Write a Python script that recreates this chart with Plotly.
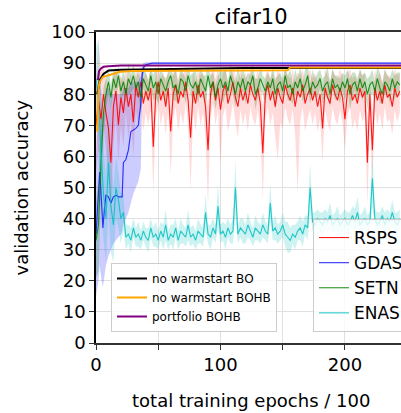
import plotly.graph_objects as go

# ---------------- data ----------------
EPOCHS = list(range(0, 246, 2))  # 0..244 step 2 (123 points)

RSPS_MEAN = [
    70, 78, 72, 80, 74, 69, 58, 76, 81, 70,
    79, 74, 82, 76, 80, 71, 83, 79, 84, 77,
    81, 78, 82, 63, 80, 84, 78, 81, 76, 82,
    68, 80, 83, 77, 81, 79, 84, 78, 66, 81,
    77, 83, 79, 81, 76, 62, 80, 84, 78, 82,
    75, 81, 83, 77, 80, 84, 79, 76, 82, 78,
    81, 77, 83, 80, 78, 82, 77, 61, 80, 83,
    78, 81, 76, 82, 79, 77, 83, 80, 78, 82,
    76, 81, 79, 83, 77, 80, 82, 78, 81, 76,
    80, 69, 82, 79, 77, 83, 80, 78, 82, 79,
    72, 81, 83, 78, 80, 77, 82, 79, 81, 58,
    80, 62, 82, 78, 81, 77, 83, 79, 80, 76,
    82, 79, 81,
]
RSPS_HI = [
    86, 97, 88, 89, 85, 82, 75, 86, 89, 84,
    86, 84, 88, 84, 87, 82, 88, 86, 89, 85,
    87, 85, 88, 80, 86, 89, 85, 87, 84, 88,
    82, 87, 88, 85, 87, 86, 89, 85, 80, 87,
    84, 88, 86, 87, 84, 76, 86, 89, 85, 88,
    83, 87, 88, 84, 86, 89, 86, 84, 88, 85,
    87, 84, 88, 86, 85, 88, 84, 76, 86, 88,
    85, 87, 84, 88, 86, 84, 88, 86, 85, 88,
    84, 87, 86, 88, 84, 86, 88, 85, 87, 84,
    86, 80, 88, 86, 84, 88, 86, 85, 88, 86,
    82, 87, 88, 85, 86, 84, 88, 86, 87, 72,
    86, 74, 88, 85, 87, 84, 88, 86, 86, 84,
    88, 86, 87,
]
RSPS_LO = [
    55, 62, 60, 70, 62, 55, 40, 64, 72, 58,
    70, 63, 74, 66, 72, 60, 75, 70, 76, 68,
    74, 70, 75, 48, 72, 77, 70, 74, 67, 75,
    54, 72, 76, 68, 74, 70, 77, 70, 49, 74,
    68, 76, 70, 74, 66, 44, 72, 77, 70, 75,
    57, 73, 76, 68, 72, 77, 71, 66, 75, 70,
    74, 68, 76, 72, 70, 75, 68, 46, 72, 76,
    70, 74, 66, 59, 71, 69, 76, 72, 70, 75,
    67, 48, 71, 76, 68, 72, 75, 70, 74, 68,
    72, 58, 75, 71, 68, 76, 72, 70, 75, 71,
    62, 73, 76, 69, 72, 68, 75, 71, 74, 44,
    72, 50, 75, 70, 74, 68, 76, 71, 72, 67,
    75, 71, 74,
]

SETN_MEAN = [
    33, 38, 58, 74, 80, 84, 79, 85, 82, 86,
    81, 84, 80, 85, 83, 86, 82, 84, 79, 85,
    83, 81, 86, 82, 84, 80, 85, 83, 81, 84,
    86, 82, 83, 80, 85, 84, 81, 86, 83, 82,
    84, 80, 85, 83, 81, 86, 82, 84, 79, 83,
    85, 82, 84, 81, 86, 83, 80, 84, 82, 85,
    81, 84, 83, 86, 80, 82, 85, 83, 81, 84,
    82, 85, 80, 83, 84, 81, 86, 82, 83, 80,
    84, 82, 85, 81, 83, 86, 80, 84, 82, 83,
    85, 81, 83, 84, 80, 85, 82, 83, 81, 84,
    82, 85, 80, 83, 84, 81, 85, 82, 84, 80,
    83, 84, 81, 85, 82, 80, 84, 83, 81, 85,
    82, 84, 83,
]
SETN_STD = [
    12, 15, 14, 8, 5, 4, 4, 3, 4, 3,
    3, 4, 3, 5, 3, 4, 3, 4, 5, 3,
    4, 3, 3, 4, 5, 3, 4, 3, 4, 3,
    3, 4, 5, 3, 4, 3, 4, 3, 3, 5,
    4, 3, 4, 3, 5, 3, 4, 3, 4, 3,
    3, 5, 4, 3, 4, 3, 4, 5, 3, 4,
    4, 3, 3, 4, 5, 3, 4, 3, 4, 3,
    3, 4, 5, 3, 3, 4, 3, 4, 5, 3,
    4, 3, 4, 3, 5, 4, 3, 4, 3, 4,
    3, 4, 3, 5, 4, 3, 4, 3, 4, 3,
    4, 3, 5, 4, 3, 4, 3, 4, 3, 5,
    3, 4, 3, 4, 5, 3, 4, 3, 4, 3,
    4, 3, 4,
]

ENAS_MEAN = [
    85, 78, 62, 48, 40, 58, 44, 38, 50, 46,
    40, 42, 34, 35, 33, 37, 34, 35, 33, 36,
    34, 33, 37, 34, 35, 33, 36, 34, 38, 33,
    35, 34, 37, 33, 36, 35, 34, 38, 34, 35,
    33, 36, 35, 34, 42, 35, 34, 37, 35, 44,
    35, 36, 34, 37, 35, 36, 50, 35, 37, 36,
    35, 38, 36, 34, 37, 36, 35, 38, 36, 35,
    45, 36, 37, 35, 36, 38, 35, 34, 33, 35,
    34, 36, 37, 35, 38, 37, 50, 39, 38, 40,
    39, 38, 40, 39, 41, 38, 39, 40, 38, 39,
    40, 38, 39, 41, 39, 42, 38, 39, 40, 38,
    39, 53, 40, 38, 39, 41, 38, 40, 39, 42,
    39, 38, 40,
]
ENAS_STD = [
    10, 20, 18, 15, 14, 16, 15, 12, 10, 9,
    8, 6, 4, 3, 4, 3, 3, 4, 3, 3,
    3, 4, 3, 3, 4, 3, 3, 4, 5, 3,
    3, 4, 3, 3, 4, 3, 3, 5, 3, 3,
    3, 4, 3, 3, 6, 3, 4, 3, 3, 7,
    3, 3, 4, 3, 3, 4, 9, 3, 3, 4,
    3, 4, 3, 3, 4, 3, 3, 4, 3, 3,
    6, 3, 4, 3, 3, 4, 4, 5, 4, 3,
    4, 3, 4, 4, 3, 4, 8, 3, 4, 3,
    3, 4, 3, 3, 4, 3, 3, 4, 3, 3,
    3, 4, 3, 3, 4, 5, 3, 3, 4, 3,
    3, 9, 3, 4, 3, 3, 4, 3, 3, 4,
    3, 4, 3,
]

GDAS_EPOCHS = [0, 1, 2, 3, 4.5, 5.5, 7, 8, 10, 12, 14, 16, 18, 20, 21, 22,
               24, 26, 28, 30, 32, 34, 36, 37, 38, 40, 45, 60, 100, 150, 200, 245]
GDAS_MEAN = [35, 42, 50, 55, 45, 37, 44, 47.5, 47, 45, 47, 47.5, 47, 47, 47, 58,
             59, 62, 68, 68.5, 69, 70, 77, 86, 88.5, 89.5, 90, 90, 90, 90, 90, 90]
GDAS_HI = [60, 70, 78, 85, 80, 72, 75, 82, 82, 80, 80, 80, 80, 80, 80, 82,
           82, 82, 84, 84, 84, 84, 86, 89, 90, 90.3, 90.3, 90.3, 90.3, 90.3, 90.3, 90.3]
GDAS_LO = [15, 18, 20, 25, 20, 18, 22, 25, 28, 30, 32, 33, 34, 35, 36, 38,
           40, 42, 45, 48, 50, 52, 56, 80, 86, 88.8, 89.7, 89.7, 89.7, 89.7, 89.7, 89.7]

BO_EPOCHS = [1, 2, 3, 6, 10, 20, 68, 118, 245]
BO_ACC = [80, 82, 84.5, 86.5, 87.6, 87.9, 88.1, 88.4, 88.4]

BOHB_EPOCHS = [1, 1.5, 2, 3, 5.6, 13.6, 19, 30, 154, 156, 245]
BOHB_ACC = [68, 78, 82, 84, 85.6, 86.5, 87.2, 87.5, 87.7, 88.6, 88.6]

PORTFOLIO_EPOCHS = [1.5, 2.5, 4, 6, 10, 20, 245]
PORTFOLIO_ACC = [84.5, 87.5, 88.3, 88.8, 89.0, 89.2, 89.2]

X_TICKS = [0, 50, 100, 150, 200]
X_TICK_TEXT = ["0", "", "100", "", "200"]
Y_TICKS = [0, 10, 20, 30, 40, 50, 60, 70, 80, 90, 100]

FONT = "DejaVu Sans"
W, H = 401, 413
PL, PR, PT, PB = 96, 401, 32, 343   # plot area in px
L, R, T, B = PL, W - PR, PT, H - PB
PW = PR - PL
PH = PB - PT


def px_x(x):
    return (x - PL) / PW


def px_y(y):
    return (PB - y) / PH


fig = go.Figure()


def band(x, lo, hi, color):
    fig.add_trace(go.Scatter(
        x=list(x) + list(x)[::-1], y=list(hi) + list(lo)[::-1],
        fill="toself", fillcolor=color, line=dict(width=0),
        mode="lines", hoverinfo="skip", showlegend=False))


# bands
band(EPOCHS, RSPS_LO, RSPS_HI, "rgba(255,0,0,0.14)")
band(GDAS_EPOCHS, GDAS_LO, GDAS_HI, "rgba(0,0,255,0.2)")
band(EPOCHS, [m - s for m, s in zip(SETN_MEAN, SETN_STD)],
     [m + s for m, s in zip(SETN_MEAN, SETN_STD)], "rgba(0,128,0,0.22)")
band(EPOCHS, [m - s for m, s in zip(ENAS_MEAN, ENAS_STD)],
     [m + s for m, s in zip(ENAS_MEAN, ENAS_STD)], "rgba(0,191,191,0.2)")

# one-shot lines
fig.add_trace(go.Scatter(x=EPOCHS, y=RSPS_MEAN, mode="lines", name="RSPS",
                         line=dict(color="rgba(255,0,0,0.9)", width=1.1), legend="legend2"))
fig.add_trace(go.Scatter(x=GDAS_EPOCHS, y=GDAS_MEAN, mode="lines", name="GDAS",
                         line=dict(color="rgba(0,0,255,0.75)", width=1.2), legend="legend2"))
fig.add_trace(go.Scatter(x=EPOCHS, y=SETN_MEAN, mode="lines", name="SETN",
                         line=dict(color="rgba(0,128,0,0.85)", width=1.1), legend="legend2"))
fig.add_trace(go.Scatter(x=EPOCHS, y=ENAS_MEAN, mode="lines", name="ENAS",
                         line=dict(color="rgba(0,191,191,0.85)", width=1.1), legend="legend2"))

# BO lines
fig.add_trace(go.Scatter(x=BO_EPOCHS, y=BO_ACC, mode="lines", name="no warmstart BO",
                         line=dict(color="black", width=2), legend="legend"))
fig.add_trace(go.Scatter(x=BOHB_EPOCHS, y=BOHB_ACC, mode="lines", name="no warmstart BOHB",
                         line=dict(color="orange", width=2), legend="legend"))
fig.add_trace(go.Scatter(x=PORTFOLIO_EPOCHS, y=PORTFOLIO_ACC, mode="lines", name="portfolio BOHB",
                         line=dict(color="purple", width=2), legend="legend"))

fig.update_layout(
    width=W, height=H,
    margin=dict(l=L, r=R, t=T, b=B, autoexpand=False),
    paper_bgcolor="white", plot_bgcolor="white",
    font=dict(family=FONT, color="black"),
    title=dict(text="cifar10", x=251 / W, xanchor="center",
               y=1 - 17 / H, yanchor="middle", yref="container",
               font=dict(size=21, family=FONT)),
    xaxis=dict(range=[0, 245], tickvals=X_TICKS, ticktext=X_TICK_TEXT,
               showgrid=True, gridcolor="#e0e0e0", gridwidth=1,
               showline=True, linecolor="#333333", linewidth=1.5, mirror=True,
               ticks="outside", ticklen=5, tickcolor="#333333",
               tickfont=dict(size=18), zeroline=False, automargin=False),
    yaxis=dict(range=[0, 100], tickvals=Y_TICKS,
               showgrid=True, gridcolor="#e0e0e0", gridwidth=1,
               showline=True, linecolor="black", linewidth=1.5, mirror=False,
               ticks="outside", ticklen=5, tickcolor="#333333",
               tickfont=dict(size=18), zeroline=False, automargin=False),
    legend=dict(x=px_x(111), y=px_y(263), xanchor="left", yanchor="top",
                bgcolor="rgba(255,255,255,0.8)", bordercolor="#cccccc", borderwidth=1,
                font=dict(size=12, family=FONT)),
    legend2=dict(x=px_x(313), y=px_y(332), xanchor="left", yanchor="bottom",
                 bgcolor="rgba(255,255,255,0.8)", bordercolor="#cccccc", borderwidth=1,
                 font=dict(size=17, family=FONT)),
    annotations=[
        dict(text="total training epochs / 100", xref="paper", yref="paper",
             x=px_x(251), y=px_y(400), xanchor="center", yanchor="middle",
             showarrow=False, font=dict(size=18, family=FONT)),
        dict(text="validation accuracy", xref="paper", yref="paper",
             x=px_x(21), y=0.5, xanchor="center", yanchor="middle", textangle=-90,
             showarrow=False, font=dict(size=18, family=FONT)),
    ],
)

fig.write_html(
    "out.html",
    config={"displayModeBar": False},
    post_script="document.body.style.margin='0';document.body.style.overflow='hidden';",
)
